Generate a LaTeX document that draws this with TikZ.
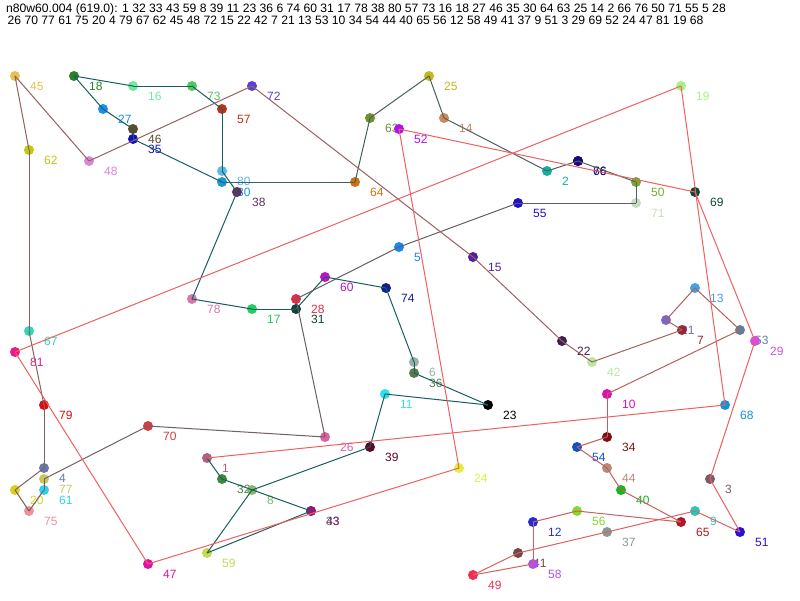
\documentclass[tikz,border=0pt]{standalone}
\usepackage{fontspec}
\setmainfont{Liberation Sans}
\definecolor{c1}{HTML}{B06080}\definecolor{c2}{HTML}{10B0A0}\definecolor{c3}{HTML}{805868}
\definecolor{c4}{HTML}{6878A8}\definecolor{c5}{HTML}{1888F0}\definecolor{c6}{HTML}{98B0A8}
\definecolor{c7}{HTML}{982838}\definecolor{c8}{HTML}{88B868}\definecolor{c9}{HTML}{28C8B8}
\definecolor{c10}{HTML}{E010B0}\definecolor{c11}{HTML}{30E0E8}\definecolor{c12}{HTML}{2030D8}
\definecolor{c13}{HTML}{48A0E0}\definecolor{c14}{HTML}{D08858}\definecolor{c15}{HTML}{5020A0}
\definecolor{c16}{HTML}{70E8A0}\definecolor{c17}{HTML}{20D060}\definecolor{c18}{HTML}{288028}
\definecolor{c19}{HTML}{A8F088}\definecolor{c20}{HTML}{D8D020}\definecolor{c21}{HTML}{7868C8}
\definecolor{c22}{HTML}{402050}\definecolor{c23}{HTML}{000000}\definecolor{c24}{HTML}{E0F040}
\definecolor{c25}{HTML}{C8B820}\definecolor{c26}{HTML}{E060A0}\definecolor{c27}{HTML}{1890F0}
\definecolor{c28}{HTML}{E82848}\definecolor{c29}{HTML}{D050E8}\definecolor{c30}{HTML}{1898D8}
\definecolor{c31}{HTML}{104038}\definecolor{c32}{HTML}{3C8A3C}\definecolor{c33}{HTML}{30A050}
\definecolor{c34}{HTML}{801010}\definecolor{c35}{HTML}{1010C8}\definecolor{c36}{HTML}{5A7A50}
\definecolor{c37}{HTML}{889898}\definecolor{c38}{HTML}{603060}\definecolor{c39}{HTML}{600828}
\definecolor{c40}{HTML}{10B818}\definecolor{c41}{HTML}{704848}\definecolor{c42}{HTML}{B8E8A0}
\definecolor{c43}{HTML}{A0107A}\definecolor{c44}{HTML}{B88878}\definecolor{c45}{HTML}{E8C050}
\definecolor{c46}{HTML}{604828}\definecolor{c47}{HTML}{E010A8}\definecolor{c48}{HTML}{D888D8}
\definecolor{c49}{HTML}{F03050}\definecolor{c50}{HTML}{78A830}\definecolor{c51}{HTML}{2810D8}
\definecolor{c52}{HTML}{B010F0}\definecolor{c53}{HTML}{608098}\definecolor{c54}{HTML}{1050C8}
\definecolor{c55}{HTML}{2010C8}\definecolor{c56}{HTML}{88D830}\definecolor{c57}{HTML}{C03018}
\definecolor{c58}{HTML}{B050F0}\definecolor{c59}{HTML}{C8D850}\definecolor{c60}{HTML}{C010C8}
\definecolor{c61}{HTML}{30D0F0}\definecolor{c62}{HTML}{C0C810}\definecolor{c63}{HTML}{709030}
\definecolor{c64}{HTML}{D07010}\definecolor{c65}{HTML}{B01828}\definecolor{c66}{HTML}{100880}
\definecolor{c67}{HTML}{30D8B8}\definecolor{c68}{HTML}{1890D8}\definecolor{c69}{HTML}{104838}
\definecolor{c70}{HTML}{D04040}\definecolor{c71}{HTML}{C8DCC0}\definecolor{c72}{HTML}{5840D8}
\definecolor{c73}{HTML}{50C860}\definecolor{c74}{HTML}{102090}\definecolor{c75}{HTML}{F09098}
\definecolor{c76}{HTML}{180A78}\definecolor{c77}{HTML}{C8C858}\definecolor{c78}{HTML}{D878A8}
\definecolor{c79}{HTML}{D81010}\definecolor{c80}{HTML}{60B8E8}\definecolor{c81}{HTML}{F01888}
\begin{document}
\begin{tikzpicture}[x=1pt,y=-1pt,
  dot/.style={circle,inner sep=0pt,minimum size=10pt},
  lbl/.style={anchor=west,inner sep=0pt,font=\fontsize{12}{14}\selectfont},
  hdr/.style={anchor=base west,inner sep=0pt,font=\fontsize{12.15}{14}\selectfont},
  edge/.style={line width=1pt}]
\useasboundingbox[fill=white] (0,0) rectangle (800,600);
\def\pts{1/207/458,2/547/171,3/710/479,4/44/468,5/399/247,6/414/362,7/682/330,8/252/490,
9/695/511,10/607/394,11/385/394,12/533/522,13/695/288,14/444/118,15/473/257,16/133/86,
17/252/309,18/74/76,19/681/86,20/15/490,21/666/320,22/562/341,23/488/405,24/459/468,
25/429/76,26/325/437,27/103/109,28/296/299,29/755/341,30/222/182,31/296/309,32/222/479,
33/311/511,34/607/437,35/133/139,36/414/373,37/607/532,38/237/192,39/370/447,40/621/490,
41/518/553,42/592/362,43/311/511,44/607/468,45/15/76,46/133/129,47/148/564,48/89/161,
49/473/575,50/636/182,51/740/532,52/399/129,53/740/330,54/577/447,55/518/203,56/577/511,
57/222/109,58/533/564,59/207/553,60/325/277,61/44/490,62/29/150,63/370/118,64/355/182,
65/681/522,66/578/161,67/29/331,68/725/405,69/695/192,70/148/426,71/636/203,72/252/86,
73/192/86,74/386/288,75/29/511,76/578/161,77/44/479,78/192/299,79/44/405,80/222/171,81/15/352}
% header
\node[hdr] (h1) at (6,12.5) {n80w60.004 (619.0): 1 32 33 43 59 8 39 11 23 36 6 74 60 31 17 78 38 80 57 73 16 18 27 46 35 30 64 63 25 14 2 66 76 50 71 55 5 28};
\node[hdr] (h2) at (7.5,24.5) {26 70 77 61 75 20 4 79 67 62 45 48 72 15 22 42 7 21 13 53 10 34 54 44 40 65 56 12 58 49 41 37 9 51 3 29 69 52 24 47 81 19 68};
% labels
\foreach \i/\x/\y in \pts {\node[lbl,text=c\i] (l\i) at (\x+15,\y+10) {\i};}
% dots
\foreach \i/\x/\y in \pts {\node[dot,fill=c\i] (n\i) at (\x,\y) {};}
% tour edges
\foreach \a/\b [count=\k from 0] in {1/32,32/33,33/43,43/59,59/8,8/39,39/11,11/23,23/36,36/6,
6/74,74/60,60/31,31/17,17/78,78/38,38/80,80/57,57/73,73/16,16/18,18/27,27/46,46/35,35/30,
30/64,64/63,63/25,25/14,14/2,2/66,66/76,76/50,50/71,71/55,55/5,5/28,28/26,26/70,70/77,
77/61,61/75,75/20,20/4,4/79,79/67,67/62,62/45,45/48,48/72,72/15,15/22,22/42,42/7,7/21,
21/13,13/53,53/10,10/34,34/54,54/44,44/40,40/65,65/56,56/12,12/58,58/49,49/41,41/37,
37/9,9/51,51/3,3/29,29/69,69/52,52/24,24/47,47/81,81/19,19/68,68/1}{
  \pgfmathtruncatemacro\rr{\k<25 ? 24 : min(240,64+3.7*(\k-25))}
  \definecolor{ec}{RGB}{\rr,96,96}
  \draw[edge,draw=ec] (n\a.center) -- (n\b.center);
}
\end{tikzpicture}
\end{document}
